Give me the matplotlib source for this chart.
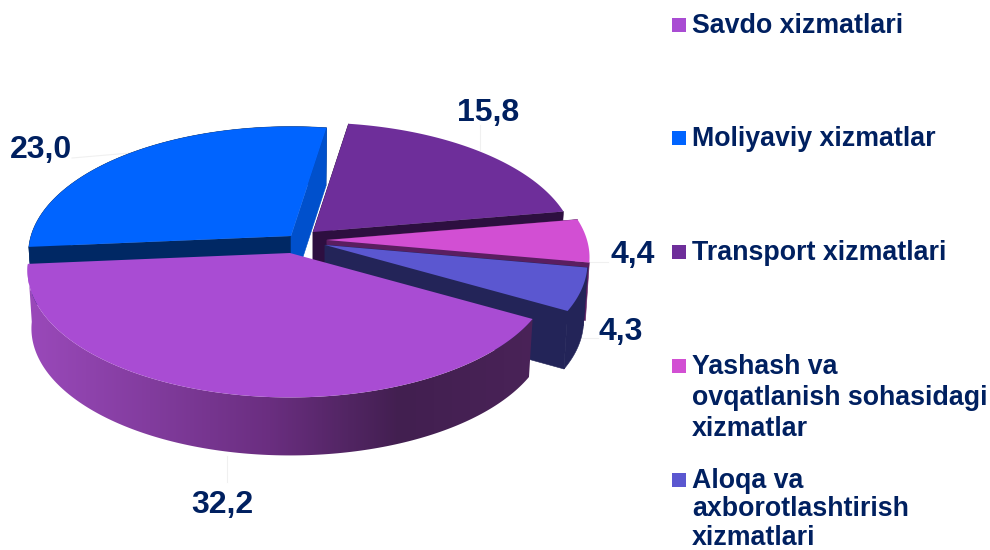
import numpy as np
import matplotlib.pyplot as plt
from matplotlib.colors import to_rgb
from matplotlib.patches import Polygon

plt.rcParams['font.family'] = ['Liberation Sans', 'DejaVu Sans']

# データ
categories = ['Savdo xizmatlari', 'Moliyaviy xizmatlar', 'Transport xizmatlari',
              'Yashash va\novqatlanish sohasidagi\nxizmatlar',
              'Aloqa va\naxborotlashtirish\nxizmatlari']
values = [32.2, 23.0, 15.8, 4.4, 4.3]
value_labels = ['32,2', '23,0', '15,8', '4,4', '4,3']

top_colors = ['#A94CD3', '#0064FF', '#6E2E9A', '#D24FD3', '#5B57D0']
face_colors = ['#4A2258', '#002864', '#2D0F40', '#5A1E60', '#232458']
end_colors = ['#4A2258', '#0050CC', '#2D0F40', '#5A1E60', '#232458']
text_color = '#002060'

# 奥行き付きの円の形
start_angle = 29.6
radius = 260
flat = 124.5
persp = 0.138
depth = 58
# 各スライスの頂点 (ピクセル)
apex = [(290, 253), (291, 236), (313, 232), (327, 240), (325, 245)]
# 奥から手前の順に描く
draw_order = [1, 2, 3, 4, 0]


def rim(theta, center, low=False):
    u = np.cos(theta)
    v = np.sin(theta)
    f = 1 / (1 - persp * v)
    x = radius * u * f
    y = flat * v * f
    if low:
        return center[0] + x * 0.985, center[1] + y + depth
    return center[0] + x, center[1] + y


fig = plt.figure(figsize=(9.9, 5.5), dpi=100)
ax = fig.add_axes([0, 0, 1, 1])

# 引き出し線 (うすい)
for xs, ys in [((72, 130), (158, 153)), ((480, 480), (125, 150)), ((227, 227), (456, 482)),
               ((590, 608), (262, 262)), ((580, 598), (338, 338))]:
    ax.plot(xs, ys, color='#F0F0F0', lw=0.8, zorder=1)

# スライスの角度
spans = np.array(values) / sum(values) * 2 * np.pi
starts = np.deg2rad(start_angle) + np.concatenate([[0], np.cumsum(spans)[:-1]])

# Savdo の側面のグラデーション
side_stops_x = [20, 150, 270, 400, 540]
side_stops = [to_rgb(c) for c in ['#9C4ABC', '#823C9E', '#6A2E80', '#421F50', '#4A2358']]
grad_x = np.linspace(20, 540, 260)
gradient = np.array([[np.interp(grad_x, side_stops_x, [s[n] for s in side_stops]) for n in range(3)]])
gradient = np.moveaxis(gradient, 1, 2)

z = 2
for i in draw_order:
    c = apex[i]
    theta = np.linspace(starts[i], starts[i] + spans[i], 160)
    tx, ty = rim(theta, c)
    bx, by = rim(theta, c, low=True)
    low_apex = (c[0], c[1] + depth)

    # 外側の面
    if i == 0:
        strip = Polygon(np.c_[np.r_[tx, bx[::-1]], np.r_[ty, by[::-1]]], closed=True,
                        transform=ax.transData, facecolor='none', edgecolor='none')
        ax.add_patch(strip)
        img = ax.imshow(gradient, extent=(20, 540, 470, 250), aspect='auto', zorder=z)
        img.set_clip_path(strip)
    elif i in (1, 4):
        ax.fill(np.r_[tx, bx[::-1]], np.r_[ty, by[::-1]], color=face_colors[i], lw=0.4, zorder=z)

    # 切り口の面
    if i != 0:
        for end, color in ((0, face_colors[i]), (-1, end_colors[i])):
            ax.fill([c[0], tx[end], bx[end], low_apex[0]], [c[1], ty[end], by[end], low_apex[1]],
                    color=color, lw=0.4, zorder=z)

    # 上面
    ax.fill(np.r_[c[0], tx], np.r_[c[1], ty], color=top_colors[i], lw=0, zorder=z + 1)
    z += 2

# 値ラベル
label_pos = [(222, 513), (41, 158), (488, 121), (633, 263), (621, 340)]
for label, (x, y) in zip(value_labels, label_pos):
    ax.text(x, y, label, color=text_color, fontsize=23, fontweight='bold',
            ha='center', va='baseline', zorder=20)

# 凡例
legend_y = [33, 146, 260, 374, 488]
legend_step = [0, 0, 0, 31, 28.5]
for name, color, y, step in zip(categories, top_colors, legend_y, legend_step):
    ax.fill([672, 686, 686, 672], [y - 15, y - 15, y - 1, y - 1], color=color, lw=0, zorder=20)
    for n, line in enumerate(name.split('\n')):
        ax.text(692, y + n * step, line, color=text_color, fontsize=19.3, fontweight='bold',
                ha='left', va='baseline', zorder=20)

ax.set_xlim(0, 990)
ax.set_ylim(550, 0)
ax.axis('off')

fig.savefig('out.png', dpi=100)
